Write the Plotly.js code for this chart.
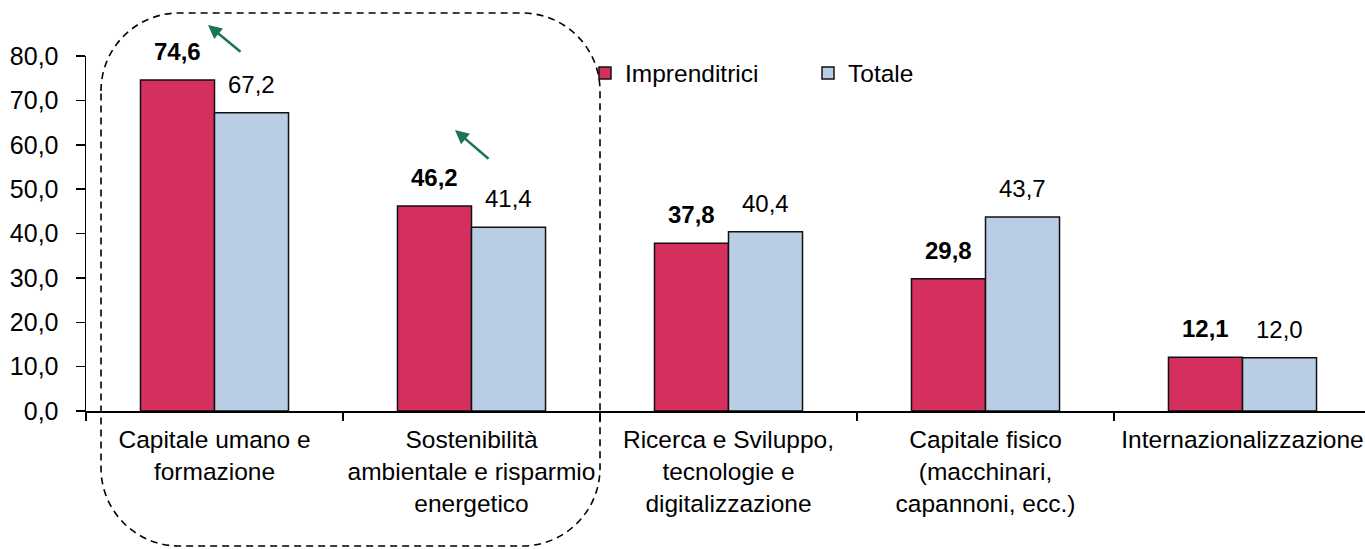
<!DOCTYPE html>
<html>
<head>
<meta charset="utf-8">
<script src="https://cdn.plot.ly/plotly-3.0.1.min.js"></script>
<style>html,body{margin:0;padding:0;background:#fff;}#chart{width:1365px;height:549px;}</style>
</head>
<body>
<div id="chart"></div>
<script>
// ---- data ----
const categories = [
  "Capitale umano e<br>formazione",
  "Sostenibilità<br>ambientale e risparmio<br>energetico",
  "Ricerca e Sviluppo,<br>tecnologie e<br>digitalizzazione",
  "Capitale fisico<br>(macchinari,<br>capannoni, ecc.)",
  "Internazionalizzazione"
];
const imprenditrici = [74.6, 46.2, 37.8, 29.8, 12.1];
const totale = [67.2, 41.4, 40.4, 43.7, 12.0];
const seriesNames = ["Imprenditrici", "Totale"];
const yTickVals = [0, 10, 20, 30, 40, 50, 60, 70, 80];

// ---- layout geometry ----
const W = 1365, H = 549;
const mL = 86, mR = 0, mT = 56, mB = 138;
const plotW = W - mL - mR, plotH = H - mT - mB;
const catPx = 257;
const FONT = '"Liberation Sans", Arial, sans-serif';
const RED = '#D52F5E', BLUE = '#B9CDE5', EDGE = '#111111';

const fmt = v => v.toFixed(1).replace('.', ',');
const px2x = px => (px - mL) / plotW;
const px2y = py => (H - mB - py) / plotH;

const traces = [
  {type: 'bar', name: seriesNames[0], x: categories, y: imprenditrici,
   marker: {color: RED, line: {color: EDGE, width: 1.5}}, hoverinfo: 'none'},
  {type: 'bar', name: seriesNames[1], x: categories, y: totale,
   marker: {color: BLUE, line: {color: EDGE, width: 1.5}}, hoverinfo: 'none'}
];

const annotations = [];
imprenditrici.forEach((v, i) => annotations.push({
  x: i, y: v, xref: 'x', yref: 'y', text: '<b>' + fmt(v) + '</b>', showarrow: false,
  yanchor: 'bottom', xanchor: 'center', xshift: -37, yshift: 13,
  font: {family: FONT, size: 24, color: '#000'}
}));
totale.forEach((v, i) => annotations.push({
  x: i, y: v, xref: 'x', yref: 'y', text: fmt(v), showarrow: false,
  yanchor: 'bottom', xanchor: 'center', xshift: 37, yshift: 13,
  font: {family: FONT, size: 24, color: '#000'}
}));
// green arrows
const GREEN = '#1B7359';
[[208, 25, 34, 28], [455, 130, 35, 30]].forEach(a => annotations.push({
  x: px2x(a[0]), y: px2y(a[1]), xref: 'paper', yref: 'paper', text: '',
  showarrow: true, arrowhead: 2, arrowsize: 1.1, arrowwidth: 2.5, arrowcolor: GREEN,
  ax: a[2], ay: a[3], standoff: 0
}));

// dashed rounded box (pixel geometry converted to paper coords)
const bx0 = 101, bx1 = 600, by0 = 13, by1 = 546, r = 78, k = 0.5523 * r;
const P = (x, y) => px2x(x).toFixed(5) + ',' + px2y(y).toFixed(5);
const path = 'M' + P(bx0, by0 + r) +
  ' C' + P(bx0, by0 + r - k) + ' ' + P(bx0 + r - k, by0) + ' ' + P(bx0 + r, by0) +
  ' L' + P(bx1 - r, by0) +
  ' C' + P(bx1 - r + k, by0) + ' ' + P(bx1, by0 + r - k) + ' ' + P(bx1, by0 + r) +
  ' L' + P(bx1, by1 - r) +
  ' C' + P(bx1, by1 - r + k) + ' ' + P(bx1 - r + k, by1) + ' ' + P(bx1 - r, by1) +
  ' L' + P(bx0 + r, by1) +
  ' C' + P(bx0 + r - k, by1) + ' ' + P(bx0, by1 - r + k) + ' ' + P(bx0, by1 - r) + ' Z';

const layout = {
  width: W, height: H,
  margin: {l: mL, r: mR, t: mT, b: mB, pad: 0},
  paper_bgcolor: '#fff', plot_bgcolor: '#fff',
  barmode: 'group', bargap: 0.424, bargroupgap: 0,
  separators: ',.',
  font: {family: FONT, size: 25, color: '#000'},
  showlegend: true,
  legend: {orientation: 'h', x: px2x(585), xanchor: 'left', y: px2y(73), yanchor: 'middle',
    font: {family: FONT, size: 24.5, color: '#000'}, bgcolor: 'rgba(0,0,0,0)',
    entrywidth: 178, itemwidth: 30, traceorder: 'normal'},
  xaxis: {type: 'category', range: [-0.5, -0.5 + plotW / catPx], fixedrange: true,
    showline: true, linecolor: '#000', linewidth: 1.5, showgrid: false, zeroline: false,
    ticks: 'outside', tickson: 'boundaries', ticklen: 8, tickcolor: '#000', tickwidth: 1.5,
    tickangle: 0, ticklabelstandoff: 6,
    tickfont: {family: FONT, size: 24.5, color: '#000'}, automargin: false},
  yaxis: {range: [0, 80], tickvals: yTickVals, tickformat: '.1f', fixedrange: true,
    showline: true, linecolor: '#000', linewidth: 1.5, showgrid: false, zeroline: false,
    ticks: 'outside', ticklen: 9, tickcolor: '#000', tickwidth: 1.5, ticklabelstandoff: 12,
    tickfont: {family: FONT, size: 25, color: '#000'}, automargin: false},
  annotations: annotations,
  shapes: [{type: 'path', xref: 'paper', yref: 'paper', path: path, layer: 'above',
    line: {color: '#000', width: 1.6, dash: '7px,5px'}, fillcolor: 'rgba(0,0,0,0)'}]
};

Plotly.newPlot('chart', traces, layout, {displayModeBar: false, staticPlot: true});
</script>
</body>
</html>
